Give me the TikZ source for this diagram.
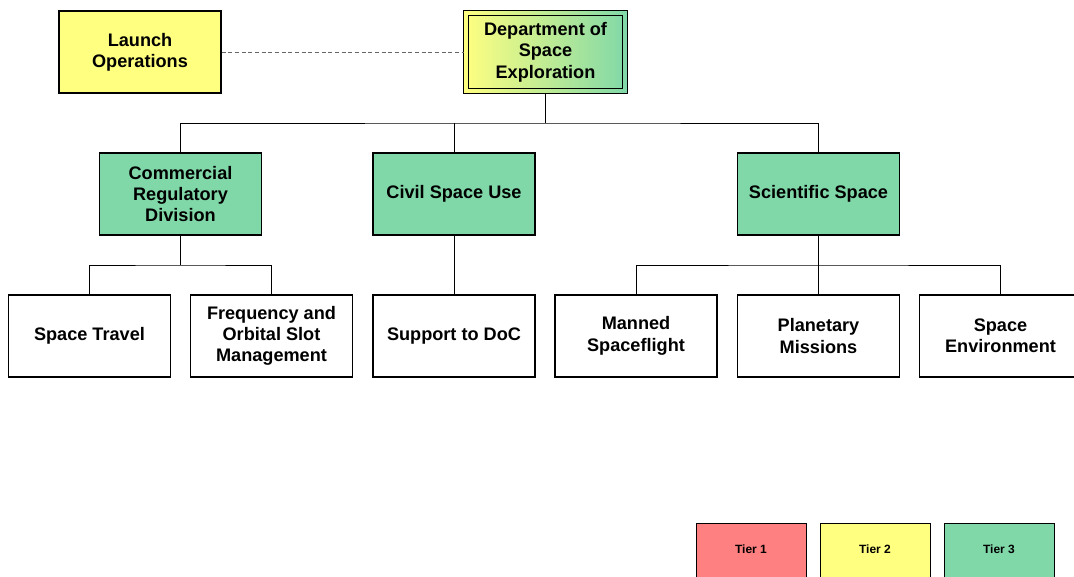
\documentclass[tikz,border=0pt]{standalone}
\usepackage{fontspec}
\setmainfont{Liberation Sans}
\usetikzlibrary{positioning}
\definecolor{tyellow}{HTML}{FFFF80}
\definecolor{tgreen}{HTML}{80D8A8}
\definecolor{tred}{HTML}{FF8080}
\begin{document}
\begin{tikzpicture}[x=0.75pt,y=-0.75pt,
  box/.style={draw=black,line width=0.8pt,minimum width=121.5pt,minimum height=61.5pt,
    align=center,font=\bfseries\fontsize{13.6}{16}\selectfont,inner sep=1pt},
  ybox/.style={box,fill=tyellow},
  gbox/.style={box,fill=tgreen},
  wbox/.style={box,fill=white},
  legbox/.style={draw=black,line width=0.8pt,minimum width=82.5pt,minimum height=45pt,
    anchor=north west,inner sep=0pt},
  legtext/.style={font=\bfseries\fontsize{9}{10}\selectfont},
  conn/.style={draw=black,line width=0.6pt},
]
\useasboundingbox (0,0) rectangle (1074,576);
% top
\node[ybox] (launch) at (140,52) {Launch\\Operations};
\node[box,draw=none,minimum width=122pt,minimum height=61.5pt,left color=tyellow,right color=tgreen] (dept) at (545.5,52) {};
\draw[line width=0.8pt] (dept.north west) rectangle (dept.south east);
\draw[line width=1.1pt] ([shift={(3.75pt,-3.75pt)}]dept.north west) rectangle ([shift={(-3.75pt,3.75pt)}]dept.south east);
\node[font=\bfseries\fontsize{13.6}{16}\selectfont,align=center] (depttext) at (dept.center) {Department of\\Space\\Exploration};
% level 2
\node[gbox] (comm) at (180.5,194) {Commercial\\Regulatory\\Division};
\node[gbox] (civil) at (454,194) {Civil Space Use};
\node[gbox] (sci) at (818.5,194) {Scientific Space};
% level 3
\node[wbox] (travel) at (89.5,336) {Space Travel};
\node[wbox] (freq) at (271.5,336) {Frequency and\\Orbital Slot\\Management};
\node[wbox] (doc) at (454,336) {Support to DoC};
\node[wbox] (manned) at (636,336) {Manned\\Spaceflight};
\node[wbox] (planet) at (818.5,336) {Planetary\\Missions};
\node[wbox] (env) at (1000.5,336) {Space\\Environment};
% connectors
\coordinate (j1) at (545.5,123);
\draw[conn] (dept.south) -- (j1);
\draw[conn] (comm.north) |- (j1) -| (sci.north);
\draw[conn] (civil.north) -- (civil.north |- j1);
\coordinate (j2) at (180.5,265);
\draw[conn] (comm.south) -- (j2);
\draw[conn] (travel.north) |- (j2) -| (freq.north);
\draw[conn] (civil.south) -- (doc.north);
\coordinate (j3) at (818.5,265);
\draw[conn] (sci.south) -- (planet.north);
\draw[conn] (manned.north) |- (j3) -| (env.north);
\draw[draw=gray!80!black,line width=0.6pt,dash pattern=on 3pt off 2pt] (launch.east) -- (dept.west);
% legend
\node[legbox,fill=tred] (t1) at (696,523) {};
\node[legbox,fill=tyellow] (t2) at (820,523) {};
\node[legbox,fill=tgreen] (t3) at (944,523) {};
\node[legtext] (t1l) at (751,549) {Tier 1};
\node[legtext] (t2l) at (875,549) {Tier 2};
\node[legtext] (t3l) at (999,549) {Tier 3};
\end{tikzpicture}
\end{document}
